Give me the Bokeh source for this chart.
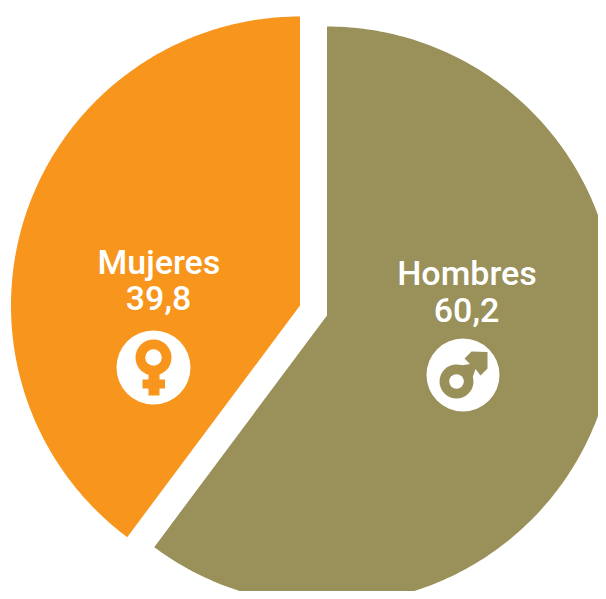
from bokeh.plotting import figure
from bokeh.embed import file_html
from bokeh.resources import INLINE
from bokeh.models import Range1d
from bokeh.core.properties import value
import math

categories = ["Mujeres", "Hombres"]
values = [39.8, 60.2]
value_labels = ["39,8", "60,2"]
colors = ["#F8951D", "#99905A"]

W, H = 598, 591
p = figure(width=W, height=H, output_backend="svg", toolbar_location=None,
           x_range=Range1d(0, W), y_range=Range1d(H, 0), min_border=0,
           outline_line_color=None, background_fill_color="white", border_fill_color="white")
p.axis.visible = False
p.grid.visible = False

R = 289
total = sum(values)
ang_m = values[0] / total * 2 * math.pi
ang_h = values[1] / total * 2 * math.pi

def wedge(cx, cy, start, sweep, color):
    n = 240
    xs, ys = [cx], [cy]
    for i in range(n + 1):
        a = start + sweep * i / n
        xs.append(cx + R * math.sin(a))
        ys.append(cy - R * math.cos(a))
    p.patch(xs, ys, fill_color=color, line_color=None)

wedge(299.5, 305, 0, -ang_m, colors[0])
wedge(326.5, 315, 0, ang_h, colors[1])

font = value("Roboto Medium")
def label(x, y, t):
    p.text([x], [y], text=[t], text_color="white", text_font=font, text_font_size="34px",
           text_align="center", text_baseline="middle")

label(158.5, 261, categories[0])
label(158, 297, value_labels[0])
label(466.5, 272, categories[1])
label(466, 309, value_labels[1])

def disc(x, y, r, color):
    p.circle([x], [y], radius=r, fill_color=color, line_color=None)

def poly(pts, color):
    p.patch([a[0] for a in pts], [a[1] for a in pts], fill_color=color, line_color=None)

# Venus icon
disc(153, 367, 37, "white")
disc(153, 357, 18, colors[0])
disc(153, 357, 8.3, "white")
poly([(148, 372), (159, 372), (159, 395), (148, 395)], colors[0])
poly([(142, 379), (164.5, 379), (164.5, 388), (142, 388)], colors[0])

# Mars icon
disc(462.5, 374.5, 36.5, "white")
disc(456, 381, 17, colors[1])
disc(456, 381, 7.3, "white")
poly([(464, 358), (471, 351), (487, 351.5), (487, 368), (480, 375), (475, 368.5),
      (471, 380), (460, 365), (469.5, 363.5)], colors[1])

open("out.html", "w").write(file_html(p, INLINE))
